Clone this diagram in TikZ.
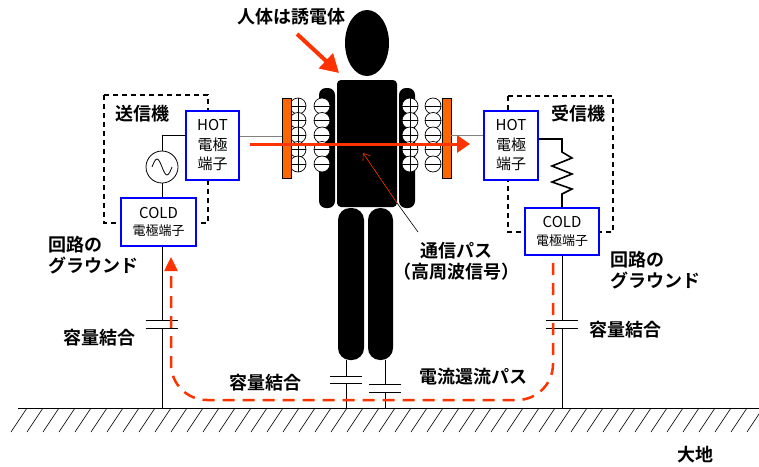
\documentclass[tikz,border=0pt]{standalone}
\usepackage{fontspec}
\setmainfont{Noto Sans CJK JP}[BoldFont={Noto Sans CJK JP Bold}]
\usetikzlibrary{arrows.meta}

\definecolor{sig}{HTML}{FF3300}
\definecolor{elec}{HTML}{FF6600}

\tikzset{
  term/.style={draw=blue,line width=1.5pt,fill=white,inner sep=0pt,align=center,
    font=\fontsize{15}{19.5}\selectfont},
  lbl/.style={font=\fontsize{18}{21}\selectfont\bfseries,inner sep=0pt},
  wire/.style={line width=0.8pt},
  dashbox/.style={line width=1.4pt,dash pattern=on 5pt off 4pt},
  charge/.style={draw,fill=white,line width=0.7pt},
  plate/.style={draw,fill=elec,line width=0.8pt,minimum width=9pt,minimum height=80pt,inner sep=0pt},
}

\begin{document}
\begin{tikzpicture}[x=1pt,y=-1pt,>=latex]
\useasboundingbox (0,0) rectangle (759,466);

% earth
\draw[wire] (18,408) -- (759,408);
\foreach \x in {27,43,...,763}
  \draw[line width=0.6pt] (\x,408) -- ++(-16,24);

% human body
\fill (367,43) ellipse [x radius=22, y radius=33];
\fill[rounded corners=4pt] (337,80) rectangle (397,207);
\fill[rounded corners=7pt] (319,88) rectangle (335,208);
\fill[rounded corners=7pt] (399,88) rectangle (415,208);
\fill[rounded corners=12pt] (338,208) rectangle (364,360);
\fill[rounded corners=12pt] (368,208) rectangle (393,360);

% polarised charges
\foreach \y in {106,120.5,135,149.5,164}{
  \draw[charge] (298,\y) circle[radius=8];
  \draw (290,\y) -- (306,\y) (298,\y-8) -- (298,\y+8);
  \draw[charge] (322,\y) circle[radius=8];
  \draw (314,\y) -- (330,\y);
  \draw[charge] (410,\y) circle[radius=8];
  \draw (402,\y) -- (418,\y) (410,\y-8) -- (410,\y+8);
  \draw[charge] (433,\y) circle[radius=8];
  \draw (425,\y) -- (441,\y);
}

% electrodes
\node[plate] (elL) at (286.5,138) {};
\node[plate] (elR) at (446.5,138) {};

% transmitter / receiver
\draw[dashbox] (104,95) rectangle (208,223);
\draw[dashbox] (508,96) rectangle (613,232);
\node[term,minimum width=53pt,minimum height=69pt] (txhot) at (212.5,145.5) {HOT\\電極\\端子};
\node[term,minimum width=75pt,minimum height=48pt] (txcold) at (158.5,222)
  {COLD\\[-2pt]{\fontsize{13}{16}\selectfont 電極端子}};
\node[term,minimum width=54pt,minimum height=69pt] (rxhot) at (511,145.5) {HOT\\電極\\端子};
\node[term,minimum width=74pt,minimum height=47pt] (rxcold) at (562,231.5)
  {COLD\\[-2pt]{\fontsize{13}{16}\selectfont 電極端子}};

\node[lbl] (txname) at (142,114) {送信機};
\node[lbl] (rxname) at (578,114) {受信機};

% source and load
\node[draw,circle,wire,minimum size=32pt,inner sep=0pt] (src) at (162,167) {};
\draw[wire] (src.center) ++(-10,0) sin ++(5,-8) cos ++(5,8) sin ++(5,8) cos ++(5,-8);
\coordinate (hs) at ([yshift=10pt]txhot.west);
\draw[wire] (src.north) |- (hs);
\draw[wire] (src.south) -- (src.south |- txcold.north);

\coordinate (rl) at ([yshift=6.5pt]rxhot.east);
\draw[line width=1.6pt] (rl) -| (562,152) -- (572,158) -- (552,166) -- (572,174)
  -- (552,182) -- (572,189) -- (562,194) -- (rxcold.north);

% hot side to electrodes
\coordinate (hw) at ([yshift=9.5pt]txhot.east);
\draw[wire,gray] (hw) -- (hw -| elL.west);
\coordinate (hr) at ([yshift=10.5pt]rxhot.west);
\draw[wire,gray] (elR.east |- hr) -- (hr);

% capacitive coupling to earth
\draw[wire] (src |- txcold.south) -- (162,320);
\draw[wire] (rxcold.south) -- (562,320);
\draw[wire] (346,360) -- (346,376);
\draw[wire] (385,360) -- (385,384);
\foreach \x/\a/\b in {162/320/328, 562/320/328, 346/376/383, 385/384/392}
  \draw[wire] (\x-16,\a) -- (\x+16,\a) (\x-16,\b) -- (\x+16,\b) (\x,\b) -- (\x,408);

% signal
\draw[sig,line width=3pt,-{Triangle[length=13pt,width=17pt]}] (250,144) -- (470,144);
\draw[sig,line width=4pt,-{Triangle[length=18pt,width=20pt]}] (297,34) -- (339,73);
\draw[line width=0.6pt] (418,232) -- (397,203);
\draw[sig,line width=0.6pt,-{Straight Barb[length=6pt,width=9pt]}] (397,203) -- (363,153);

% return current
\draw[sig,line width=2.5pt,dash pattern=on 12pt off 8pt,rounded corners=36pt,
  -{Triangle[length=14pt,width=13pt]}] (553,263) -- (553,400) -- (171,400) -- (171,257);

% labels
\node[lbl] (body) at (291,17) {人体は誘電体};
\node[lbl,align=left,anchor=west] (gndL) at (48,255) {回路の\\グラウンド};
\node[lbl,align=left,anchor=west] (gndR) at (610,270) {回路の\\グラウンド};
\node[lbl] (cL) at (99,338) {容量結合};
\node[lbl] (cB) at (265,383) {容量結合};
\node[lbl] (cR) at (625,330) {容量結合};
\node[lbl] (ret) at (473,377) {電流還流パス};
\node[lbl,align=center] (path) at (456,261) {通信パス\\（高周波信号）};
\node[lbl] (earth) at (695,455) {大地};

\end{tikzpicture}
\end{document}
